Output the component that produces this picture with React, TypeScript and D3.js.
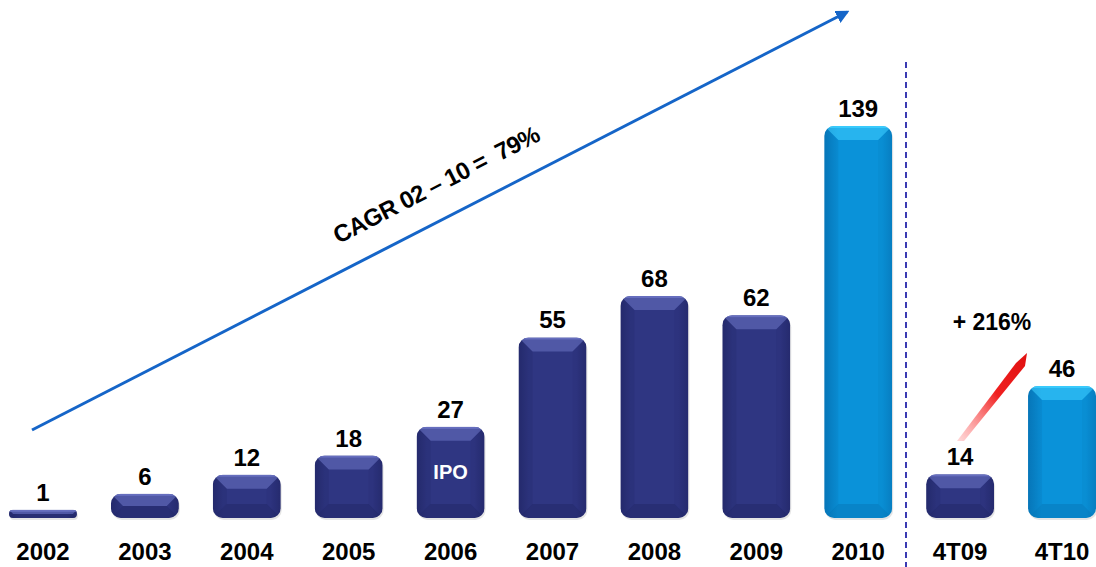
import React from "react";
import * as d3 from "d3";

const categories = ["2002", "2003", "2004", "2005", "2006", "2007", "2008", "2009", "2010", "4T09", "4T10"];
const values = [1, 6, 12, 18, 27, 55, 68, 62, 139, 14, 46];
const groups = ["year", "year", "year", "year", "year", "year", "year", "year", "year", "quarter", "quarter"];
const highlight = [false, false, false, false, false, false, false, false, true, false, true];
const innerLabels = ["", "", "", "", "IPO", "", "", "", "", "", ""];
const cagrText = "CAGR 02 – 10 =  79%";
const growthText = "+ 216%";

const W = 1096, H = 567;
const baseY = 518;
const FONT = "Arial, 'Liberation Sans', sans-serif";

export default function App() {
  const x = d3.scaleBand<string>().domain(categories).range([9, 1096]).paddingInner(0.333).paddingOuter(0);
  // bar heights: piecewise (2010 bar compressed)
  const hYear = d3.scaleLinear().domain([0, 68, 139]).range([5, 222, 392]);
  const hQuarter = d3.scaleLinear().domain([0, 46]).range([5, 132]);
  const bw = x.bandwidth();

  const navy = { light: "#6c74c4", dark: "#1f2460" };
  const sky = { light: "#3fd0ff", dark: "#0670b0" };

  const a0 = [32, 430], a1 = [847, 12];
  const ang = Math.atan2(a1[1] - a0[1], a1[0] - a0[0]) * 180 / Math.PI;

  return (
    <svg width={W} height={H} style={{ position: "absolute", left: 0, top: 0, background: "#fff" }} fontFamily={FONT}>
      <defs>
        <linearGradient id="gNavy" x1="0" x2="1" y1="0" y2="0">
          <stop offset="0" stopColor="#262c70" />
          <stop offset="0.15" stopColor="#2f3682" />
          <stop offset="0.85" stopColor="#2f3682" />
          <stop offset="1" stopColor="#262c70" />
        </linearGradient>
        <linearGradient id="gSky" x1="0" x2="1" y1="0" y2="0">
          <stop offset="0" stopColor="#0778bb" />
          <stop offset="0.2" stopColor="#0a92d9" />
          <stop offset="0.85" stopColor="#0a92d9" />
          <stop offset="1" stopColor="#0780c4" />
        </linearGradient>
        <linearGradient id="gRed" x1="0" y1="1" x2="1" y2="0">
          <stop offset="0" stopColor="#ff8080" stopOpacity="0.3" />
          <stop offset="0.55" stopColor="#f02020" />
          <stop offset="1" stopColor="#e01010" />
        </linearGradient>
        <marker id="arrowBlue" viewBox="0 0 10 10" refX="8" refY="5" markerWidth="4.5" markerHeight="4.5" orient="auto">
          <path d="M0,0 L10,5 L0,10 z" fill="#1565c8" />
        </marker>
        {categories.map((c, i) => {
          const v = values[i];
          const h = groups[i] === "year" ? hYear(v) : hQuarter(v);
          const x0 = x(c)!;
          const r = Math.min(10, h / 2);
          return (
            <clipPath id={`clip${i}`} key={c}>
              <rect x={x0} y={baseY - h} width={bw} height={h} rx={r} ry={r} />
            </clipPath>
          );
        })}
      </defs>

      {/* dashed separator */}
      <line x1={906} x2={906} y1={62} y2={H} stroke="#0a0aa0" strokeWidth={1.6} strokeDasharray="6,4" />

      {/* bars */}
      {categories.map((c, i) => {
        const v = values[i];
        const h = groups[i] === "year" ? hYear(v) : hQuarter(v);
        const x0 = x(c)!;
        const top = baseY - h;
        const col = highlight[i] ? sky : navy;
        const r = Math.min(10, h / 2);
        const b = Math.min(14, h / 2, bw / 2);
        const cx = x0 + bw / 2;
        return (
          <g key={c}>
            <rect x={x0 + 1} y={top + 2} width={bw} height={h} rx={r} ry={r} fill="#000" opacity={0.1} />
            <g clipPath={`url(#clip${i})`}>
              <rect x={x0} y={top} width={bw} height={h} fill={highlight[i] ? "url(#gSky)" : "url(#gNavy)"} />
              <polygon points={`${x0},${top} ${x0 + bw},${top} ${x0 + bw - b},${top + b} ${x0 + b},${top + b}`} fill={col.light} opacity={0.55} />
              <polygon points={`${x0},${baseY} ${x0 + bw},${baseY} ${x0 + bw - b},${baseY - b} ${x0 + b},${baseY - b}`} fill={col.dark} opacity={0.4} />
              <polygon points={`${x0},${top} ${x0 + b},${top + b} ${x0 + b},${baseY - b} ${x0},${baseY}`} fill={col.dark} opacity={0.2} />
              <polygon points={`${x0 + bw},${top} ${x0 + bw - b},${top + b} ${x0 + bw - b},${baseY - b} ${x0 + bw},${baseY}`} fill={col.dark} opacity={0.12} />
              <rect x={x0} y={top} width={bw} height={2} fill={col.light} opacity={0.8} />
            </g>
            <text x={cx} y={top - 9} textAnchor="middle" fontSize={24} fontWeight="bold" fill="#000">{v}</text>
            <text x={cx} y={560} textAnchor="middle" fontSize={24} fontWeight="bold" fill="#000">{c}</text>
            {innerLabels[i] && (
              <text x={cx} y={top + h / 2 + 7} textAnchor="middle" fontSize={20} fontWeight="bold" fill="#fff">{innerLabels[i]}</text>
            )}
          </g>
        );
      })}

      {/* CAGR arrow */}
      <line x1={a0[0]} y1={a0[1]} x2={a1[0]} y2={a1[1]} stroke="#1565c8" strokeWidth={3} markerEnd="url(#arrowBlue)" />
      <text transform={`translate(440,192) rotate(${ang})`} textAnchor="middle" fontSize={24} fontWeight="bold" fill="#000" letterSpacing={-0.6} style={{ whiteSpace: "pre" }}>{cagrText}</text>

      {/* red growth arrow */}
      <path d="M957,441 L1016,363 L1027,353 L1025,366 L964,441 Z" fill="url(#gRed)" />
      <text x={992} y={330} textAnchor="middle" fontSize={23} fontWeight="bold" fill="#000" style={{ whiteSpace: "pre" }}>{growthText}</text>
    </svg>
  );
}
